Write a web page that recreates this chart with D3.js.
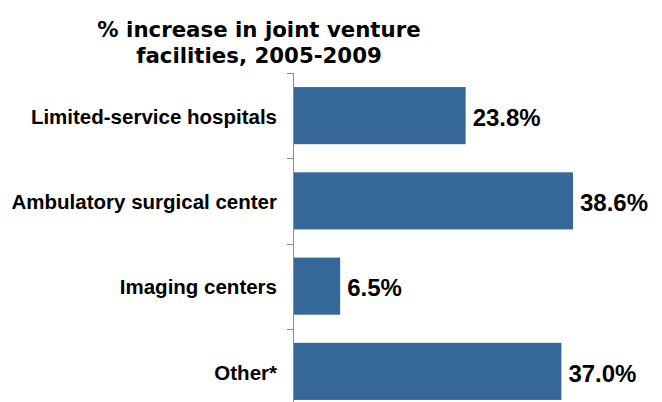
<!DOCTYPE html>
<html><head><meta charset="utf-8">
<script src="https://cdn.jsdelivr.net/npm/d3@7"></script>
<style>body{margin:0;background:#fff;} svg{display:block;}</style>
</head><body>
<svg id="c" width="662" height="402"></svg>
<script>
const categories = ["Limited-service hospitals", "Ambulatory surgical center", "Imaging centers", "Other*"];
const values = [23.8, 38.6, 6.5, 37.0];
const valueLabels = ["23.8%", "38.6%", "6.5%", "37.0%"];
const titleLines = ["% increase in joint venture", "facilities, 2005-2009"];

const svg = d3.select("#c");
const x0 = 293;
const x = d3.scaleLinear().domain([0, 38.6]).range([x0, 573]);
const y = d3.scaleBand().domain(categories).range([73, 414]).paddingInner(0.33).paddingOuter(0.165);

svg.append("g").selectAll("rect").data(categories).join("rect")
  .attr("x", x(0) + 1)
  .attr("y", d => y(d))
  .attr("width", (d, i) => x(values[i]) - x(0) - 1)
  .attr("height", y.bandwidth())
  .attr("fill", "#356799");

// axis
const ax = svg.append("g");
ax.append("line").attr("x1", x0 + 0.5).attr("x2", x0 + 0.5).attr("y1", 73).attr("y2", 414)
  .attr("stroke", "#8c8c8c").attr("stroke-width", 1);
const tickYs = d3.range(0, categories.length + 1).map(i => 73 + i * (341 / categories.length));
ax.selectAll("line.t").data(tickYs).join("line").attr("class", "t")
  .attr("x1", x0 - 6).attr("x2", x0).attr("y1", d => Math.round(d) + 0.5).attr("y2", d => Math.round(d) + 0.5)
  .attr("stroke", "#8c8c8c").attr("stroke-width", 1);

// category labels
svg.append("g").selectAll("text").data(categories).join("text")
  .attr("x", 277)
  .attr("y", d => y(d) + y.bandwidth() / 2)
  .attr("dy", "0.4em")
  .attr("text-anchor", "end")
  .attr("font-family", "Liberation Sans, Arial, sans-serif")
  .attr("font-weight", "bold")
  .attr("font-size", 20.5)
  .attr("fill", "#000")
  .text(d => d);

// value labels
svg.append("g").selectAll("text").data(categories).join("text")
  .attr("x", (d, i) => x(values[i]) + 7)
  .attr("y", d => y(d) + y.bandwidth() / 2)
  .attr("dy", "0.43em")
  .attr("font-family", "Liberation Sans, Arial, sans-serif")
  .attr("font-weight", "bold")
  .attr("font-size", 24)
  .attr("fill", "#000")
  .text((d, i) => valueLabels[i]);

// title
svg.append("g").selectAll("text").data(titleLines).join("text")
  .attr("x", 259)
  .attr("y", (d, i) => 37 + i * 26)
  .attr("text-anchor", "middle")
  .attr("font-family", "DejaVu Sans, Verdana, sans-serif")
  .attr("font-weight", "bold")
  .attr("font-size", 21.3)
  .attr("fill", "#000")
  .text(d => d);
</script>
</body></html>
